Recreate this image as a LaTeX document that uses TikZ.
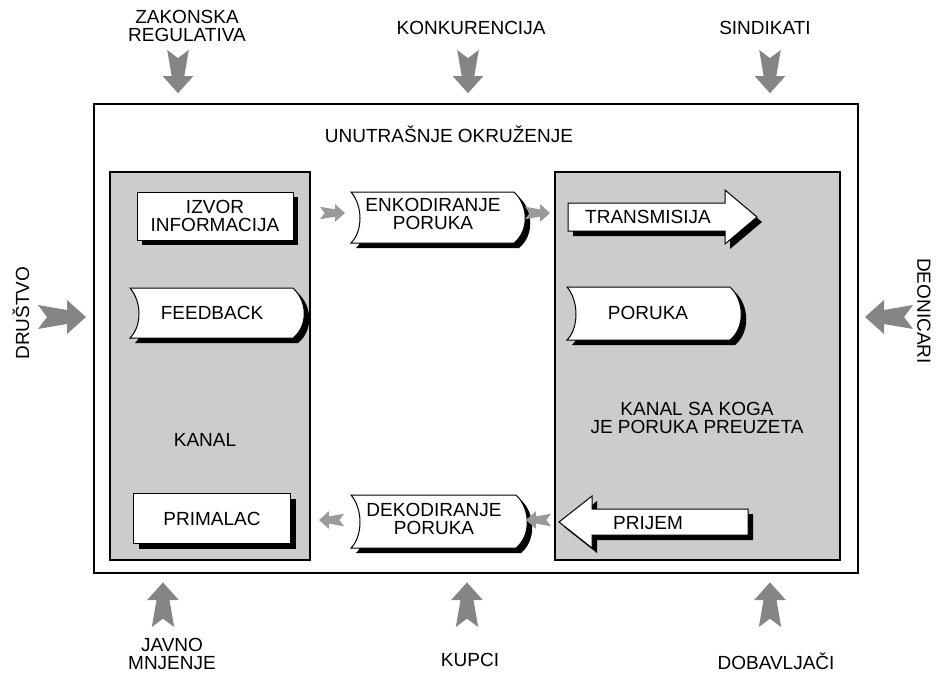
\documentclass[tikz,border=0pt]{standalone}
\usepackage{fontspec}
\setmainfont{Liberation Sans}
\definecolor{panelgray}{HTML}{CCCCCC}
\definecolor{arrowgray}{HTML}{858585}
\definecolor{smallgray}{HTML}{9A9A9A}

% swallow-tailed gray arrow: tail centre (#1,#2), direction #3, scale #4, colour #5
\newcommand\flowarrow[5]{%
  \fill[#5, shift={(#1,#2)}, rotate=#3, scale=#4]
    (0,-12) -- (29,-7) -- (29,-17) -- (48,0) -- (29,17) -- (29,7) -- (0,12) -- (9,0) -- cycle;}

% scroll-shaped card: left #1, top #2, right #3, bottom #4
\newcommand\scrollpath[4]{%
  (#1,#2) -- (#3,#2) .. controls (#3+15,#2+14) and (#3+15,#4-12) .. (#3,#4)
  -- (#1,#4) .. controls (#1+12,#4-12) and (#1+12,#2+14) .. (#1,#2) -- cycle}

\begin{document}
\begin{tikzpicture}[
  x=1pt, y=-1pt,
  frame/.style={draw=black, line width=1.6pt},
  panel/.style={fill=panelgray, draw=black, line width=1.3pt},
  card/.style={fill=white, draw=black, line width=1pt},
  drop/.style={fill=black},
  lbl/.style={font=\fontsize{19}{18}\selectfont, align=center, inner sep=0pt},
]
\useasboundingbox (0,0) rectangle (939,675);

% environment frame and the two channels
\draw[frame] (94,104) rectangle (858,573);
\draw[panel] (110,172) rectangle (310,560);
\draw[panel] (555,172) rectangle (840,560);

% source and receiver cards
\fill[drop] (142,197) rectangle (298,245);
\draw[card] (137,192) rectangle (293,240);
\fill[drop] (139,499) rectangle (296,549);
\draw[card] (133,493) rectangle (290,543);

% scroll cards
\fill[drop, shift={(5,5)}] \scrollpath{130}{288}{293}{338};
\draw[card] \scrollpath{130}{288}{293}{338};
\fill[drop, shift={(5,5)}] \scrollpath{351}{192}{514}{243};
\draw[card] \scrollpath{351}{192}{514}{243};
\fill[drop, shift={(5,5)}] \scrollpath{567}{287}{730}{340};
\draw[card] \scrollpath{567}{287}{730}{340};
\fill[drop, shift={(5,5)}] \scrollpath{351}{495}{516}{548};
\draw[card] \scrollpath{351}{495}{516}{548};

% block arrows
\fill[drop, shift={(5,5)}] (568,203) -- (725,203) -- (725,190) -- (757,217) -- (725,244) -- (725,231) -- (568,231) -- cycle;
\draw[card] (568,203) -- (725,203) -- (725,190) -- (757,217) -- (725,244) -- (725,231) -- (568,231) -- cycle;
\fill[drop, shift={(5,5)}] (748,509) -- (592,509) -- (592,496) -- (559,522) -- (592,548) -- (592,535) -- (748,535) -- cycle;
\draw[card] (748,509) -- (592,509) -- (592,496) -- (559,522) -- (592,548) -- (592,535) -- (748,535) -- cycle;

% texts
\node[lbl] (zakon) at (187,26) {ZAKONSKA\\REGULATIVA};
\node[lbl] (konk) at (471,28) {KONKURENCIJA};
\node[lbl] (sind) at (765,28) {SINDIKATI};
\node[lbl] (unutr) at (449,134) {UNUTRAŠNJE OKRUŽENJE};
\node[lbl] (izvor) at (215,216) {IZVOR\\INFORMACIJA};
\node[lbl] (enkod) at (433,214) {ENKODIRANJE\\PORUKA};
\node[lbl] (trans) at (648,217) {TRANSMISIJA};
\node[lbl] (feedback) at (212,313) {FEEDBACK};
\node[lbl] (poruka) at (648,313) {PORUKA};
\node[lbl] (kanal) at (205,440) {KANAL};
\node[lbl] (kanal2) at (697,418) {KANAL SA KOGA\\JE PORUKA PREUZETA};
\node[lbl] (primalac) at (212,519) {PRIMALAC};
\node[lbl] (dekod) at (434,519) {DEKODIRANJE\\PORUKA};
\node[lbl] (prijem) at (648,523) {PRIJEM};
\node[lbl, rotate=90] (drustvo) at (21,313) {DRUŠTVO};
\node[lbl, rotate=-90] (deon) at (924,311) {DEONICARI};
\node[lbl] (javno) at (172,654) {JAVNO\\MNJENJE};
\node[lbl] (kupci) at (470,660) {KUPCI};
\node[lbl] (dobav) at (776,661) {DOBAVLJAČI};

% influences from the outer environment
\flowarrow{178}{50}{-90}{0.9}{arrowgray}
\flowarrow{468}{50}{-90}{0.9}{arrowgray}
\flowarrow{770}{50}{-90}{0.9}{arrowgray}
\flowarrow{38}{317}{0}{1}{arrowgray}
\flowarrow{913}{317}{180}{1}{arrowgray}
\flowarrow{163}{627}{90}{0.93}{arrowgray}
\flowarrow{467}{627}{90}{0.93}{arrowgray}
\flowarrow{770}{627}{90}{0.93}{arrowgray}

% message flow between the cards
\flowarrow{320}{213}{0}{0.52}{smallgray}
\flowarrow{525}{213}{0}{0.52}{smallgray}
\flowarrow{551}{520}{180}{0.52}{smallgray}
\flowarrow{344}{520}{180}{0.52}{smallgray}
\end{tikzpicture}
\end{document}
